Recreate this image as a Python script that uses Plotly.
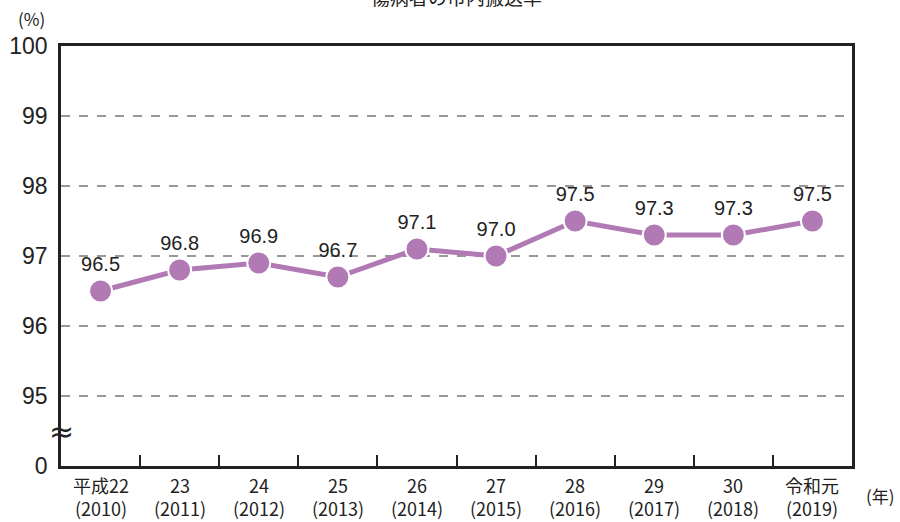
import plotly.graph_objects as go

categories = ["平成22", "23", "24", "25", "26", "27", "28", "29", "30", "令和元"]
years = ["(2010)", "(2011)", "(2012)", "(2013)", "(2014)",
         "(2015)", "(2016)", "(2017)", "(2018)", "(2019)"]
values = [96.5, 96.8, 96.9, 96.7, 97.1, 97.0, 97.5, 97.3, 97.3, 97.5]
labels = ["96.5", "96.8", "96.9", "96.7", "97.1", "97.0", "97.5", "97.3", "97.3", "97.5"]
y_tickvals = [94, 95, 96, 97, 98, 99, 100]
y_ticktext = ["0", "95", "96", "97", "98", "99", "100"]
title_text = "傷病者の市内搬送率"

purple = "#b27ab4"
jp_font = dict(family="Noto Sans CJK JP", size=18, color="#222")

fig = go.Figure()
fig.add_trace(go.Scatter(
    x=categories, y=values, mode="lines+markers+text",
    text=labels, textposition="top center",
    textfont=dict(family="Liberation Sans, Arial", size=20, color="#222"),
    line=dict(color=purple, width=5),
    marker=dict(size=23, color=purple, line=dict(color="white", width=2)),
    cliponaxis=False, showlegend=False,
))

annotations = [
    dict(text=title_text, xref="paper", yref="paper", x=0.5, y=1.117,
         xanchor="center", yanchor="middle", showarrow=False,
         font=dict(family="Noto Sans CJK JP", size=19, color="#222")),
    dict(text="(%)", xref="paper", yref="paper", x=-0.018, y=1.065,
         xanchor="right", yanchor="middle", showarrow=False,
         font=dict(family="Noto Sans CJK JP", size=17, color="#222")),
    dict(text="(年)", xref="paper", yref="paper", x=1.015, y=-0.07,
         xanchor="left", yanchor="middle", showarrow=False,
         font=dict(family="Noto Sans CJK JP", size=17, color="#222")),
    dict(text="≈", xref="paper", yref="paper", x=0, y=0.081,
         xanchor="center", yanchor="middle", showarrow=False,
         font=dict(family="DejaVu Sans", size=30, color="#222")),
]
for i, (c, yr) in enumerate(zip(categories, years)):
    annotations.append(dict(text=c + "<br>" + yr, xref="x", yref="paper", x=i, y=-0.0738,
                            xanchor="center", yanchor="middle", showarrow=False,
                            borderpad=0, font=jp_font))

fig.update_layout(
    width=900, height=522,
    margin=dict(l=61, r=48, t=46, b=56),
    paper_bgcolor="white", plot_bgcolor="white",
    xaxis=dict(
        type="category", tickson="boundaries", ticks="inside", ticklen=11,
        tickwidth=2, tickcolor="#222", automargin=False, showticklabels=False,
        showline=True, linecolor="#222", linewidth=2.5, mirror=True,
        showgrid=False, zeroline=False,
        range=[-0.5, 9.5],
    ),
    yaxis=dict(
        range=[94, 100], tickvals=y_tickvals, ticktext=y_ticktext,
        showline=True, linecolor="#222", linewidth=2.5, mirror=True,
        showgrid=True, gridcolor="#999", griddash="dash", gridwidth=1.5,
        zeroline=False, ticks="", automargin=False, ticklabelstandoff=6,
        tickfont=dict(family="Liberation Sans, Arial", size=23, color="#222"),
    ),
    annotations=annotations,
)

fig.write_html("out.html", config={"displayModeBar": False},
               post_script="document.body.style.margin='0';document.body.style.overflow='hidden';")
